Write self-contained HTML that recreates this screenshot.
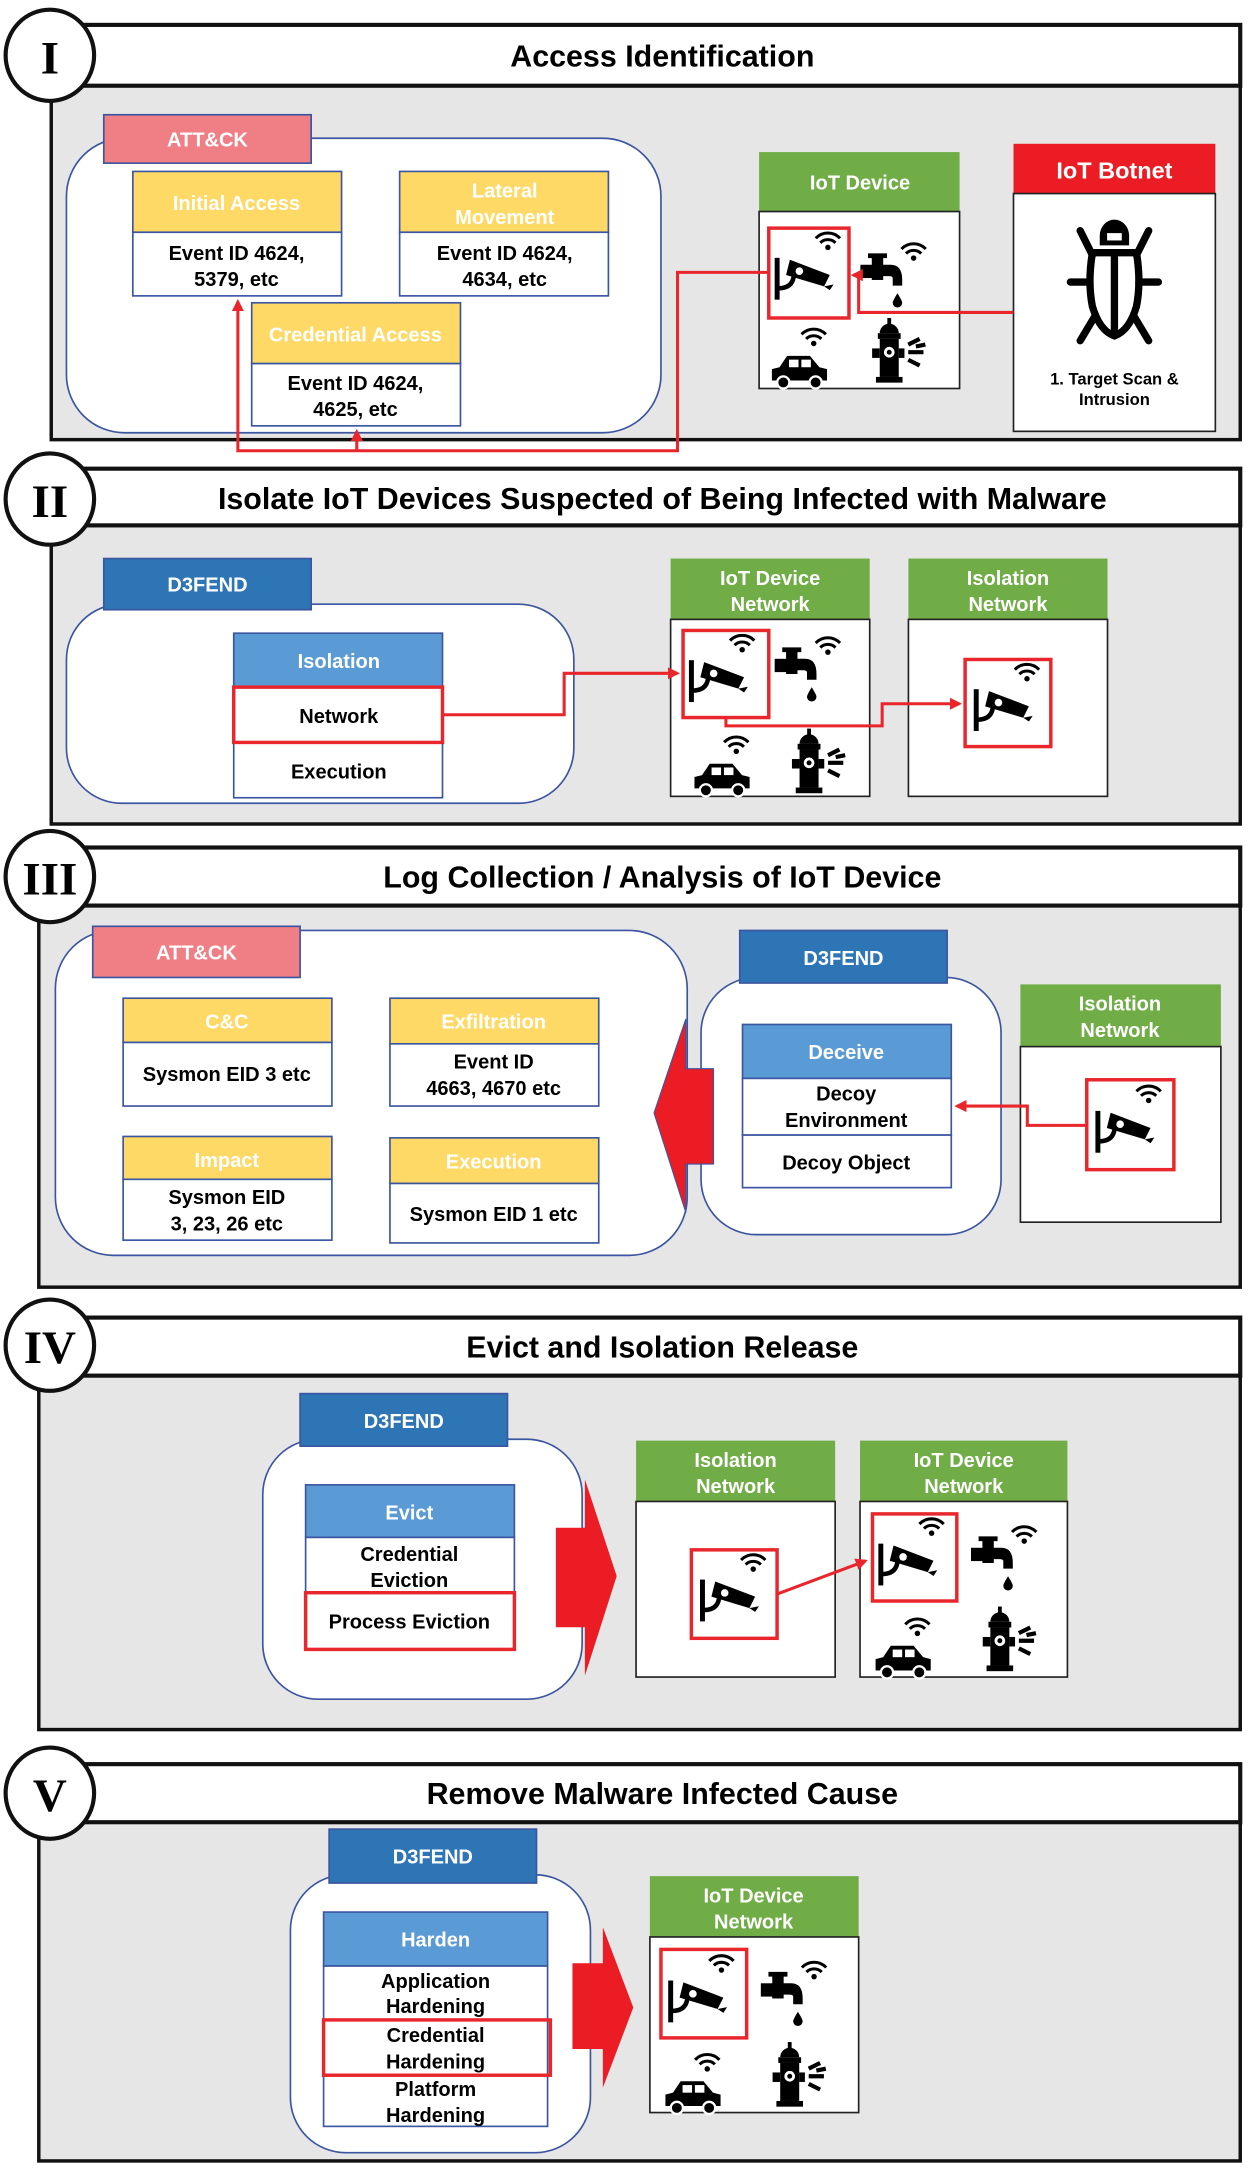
<!DOCTYPE html>
<html><head><meta charset="utf-8"><style>
html,body{margin:0;padding:0;background:#fff;}
svg{display:block;}
text{font-family:"Liberation Sans","DejaVu Sans",sans-serif;font-weight:bold;}
.w{fill:#fff;font-size:14.5px;text-anchor:middle;}
.b{fill:#000;font-size:14.5px;text-anchor:middle;}
.t{fill:#000;font-size:22px;text-anchor:middle;}
.rn{font-family:"Liberation Serif",serif;font-size:34px;text-anchor:middle;fill:#000;}
.gray{fill:#e6e6e6;stroke:#111;stroke-width:2.5;}
.bar{fill:#fff;stroke:#111;stroke-width:3;}
.cont{fill:#fff;stroke:#3b55a0;stroke-width:1.2;}
.hb{stroke:#3b55a0;stroke-width:1.2;}
.bx{fill:#fff;stroke:#3b55a0;stroke-width:1.2;}
.gb{fill:#fff;stroke:#222;stroke-width:1.2;}
.red{fill:none;stroke:#e8262b;stroke-width:2.5;}
.redl{fill:none;stroke:#e8262b;stroke-width:2.2;}
</style></head><body>
<svg width="1250" height="2172" viewBox="0 0 904 1571" xmlns="http://www.w3.org/2000/svg">
<defs>
<symbol id="wifi" viewBox="0 0 20 16" overflow="visible">
<path d="M2,7 A11,11 0 0 1 18,7" fill="none" stroke="#000" stroke-width="2"/>
<path d="M5,10 A7,7 0 0 1 15,10" fill="none" stroke="#000" stroke-width="2"/>
<circle cx="10" cy="13" r="1.8" fill="#000"/>
</symbol>
<symbol id="cam" viewBox="6 6 32 32" overflow="visible">
<use href="#wifi" x="24" y="2" width="16" height="13"/>
<rect x="4" y="18" width="2.6" height="22" fill="#000"/>
<path d="M6,34 Q13,34 14,28" fill="none" stroke="#000" stroke-width="2.4"/>
<polygon points="12,19 33,27 30,33 10,27" fill="#000"/>
<circle cx="17" cy="25" r="2" fill="#fff"/>
<polygon points="30,33 35,32 33,35" fill="#000"/>
</symbol>
<symbol id="tap" viewBox="6 6 32 32" overflow="visible">
<use href="#wifi" x="24" y="4" width="16" height="13"/>
<rect x="4" y="18" width="8" height="7" fill="#000"/>
<rect x="10" y="14" width="6" height="12" fill="#000"/>
<rect x="8" y="12" width="10" height="2.5" fill="#000"/>
<path d="M14,18 H20 Q26,18 26,26 V29 H21 V25 Q21,24 19,24 H14 Z" fill="#000"/>
<path d="M23.5,33 Q21,37 21,38 A2.5,2.5 0 0 0 26,38 Q26,37 23.5,33 Z" fill="#000"/>
</symbol>
<symbol id="car" viewBox="6 6 32 32" overflow="visible">
<use href="#wifi" x="18" y="6" width="16" height="13"/>
<path d="M4,36 V30 L8,29 L12,23 H24 L29,29 L33,30 V36 Z" fill="#000"/>
<rect x="13" y="25" width="5" height="4" fill="#fff"/><rect x="19.5" y="25" width="5" height="4" fill="#fff"/>
<circle cx="10" cy="37" r="3.2" fill="#000" stroke="#fff" stroke-width="1.2"/>
<circle cx="27" cy="37" r="3.2" fill="#000" stroke="#fff" stroke-width="1.2"/>
</symbol>
<symbol id="hyd" viewBox="6 6 32 32" overflow="visible">
<path d="M12,14 A5,5 0 0 1 22,14 Z" fill="#000"/><rect x="16" y="6" width="2" height="4" fill="#000"/>
<rect x="11" y="14" width="12" height="3" fill="#000"/>
<rect x="12" y="17" width="10" height="20" fill="#000"/>
<rect x="8" y="22" width="4" height="5" fill="#000"/><rect x="22" y="22" width="3" height="5" fill="#000"/>
<circle cx="17" cy="24" r="2.8" fill="#fff"/><circle cx="17" cy="24" r="1.3" fill="#000"/>
<rect x="10" y="37" width="14" height="3" fill="#000"/>
<path d="M27,20 L33,17 M27,24 L35,24 M27,28 L33,31 M31,21 L36,20" stroke="#000" stroke-width="2.2"/>
</symbol>
<symbol id="bug" viewBox="0 8 80 104" overflow="visible">
<path d="M28,22 A12,13 0 0 1 52,22 V30 H28 Z" fill="#000"/>
<rect x="34" y="20" width="12" height="6" fill="#fff"/>
<path d="M22,36 H58 Q62,60 58,80 Q52,100 40,104 Q28,100 22,80 Q18,60 22,36 Z" fill="none" stroke="#000" stroke-width="6"/>
<line x1="40" y1="36" x2="40" y2="102" stroke="#000" stroke-width="6"/>
<path d="M22,38 L12,18 M58,38 L68,18 M20,60 H4 M60,60 H76 M24,88 L12,108 M56,88 L68,108" stroke="#000" stroke-width="6" stroke-linecap="round"/>
</symbol>
<marker id="ar" viewBox="0 0 10 10" refX="8" refY="5" markerWidth="4" markerHeight="4" orient="auto-start-reverse">
<path d="M0,0 L10,5 L0,10 Z" fill="#e8262b"/></marker>
</defs>

<!-- ===== Section I ===== -->
<rect class="gray" x="37" y="62" width="860" height="256"/>
<rect class="bar" x="50" y="18" width="847" height="44"/>
<text class="t" x="479" y="48">Access Identification</text>
<ellipse cx="36" cy="40" rx="32" ry="33" fill="#fff" stroke="#111" stroke-width="3"/>
<text class="rn" x="36" y="53">I</text>

<rect class="cont" x="48" y="100" width="430" height="213" rx="42"/>
<rect x="75" y="83" width="150" height="35" fill="#f07f85" stroke="#3b55a0" stroke-width="1.2"/>
<text class="w" x="150" y="106">ATT&amp;CK</text>

<rect class="hb" x="96" y="124" width="151" height="44" fill="#ffd966"/>
<text class="w" x="171" y="152">Initial Access</text>
<rect class="bx" x="96" y="168" width="151" height="46"/>
<text class="b" x="171" y="188">Event ID 4624,</text><text class="b" x="171" y="207">5379, etc</text>

<rect class="hb" x="289" y="124" width="151" height="44" fill="#ffd966"/>
<text class="w" x="365" y="143">Lateral</text><text class="w" x="365" y="162">Movement</text>
<rect class="bx" x="289" y="168" width="151" height="46"/>
<text class="b" x="365" y="188">Event ID 4624,</text><text class="b" x="365" y="207">4634, etc</text>

<rect class="hb" x="182" y="219" width="151" height="44" fill="#ffd966"/>
<text class="w" x="257" y="247">Credential Access</text>
<rect class="bx" x="182" y="263" width="151" height="45"/>
<text class="b" x="257" y="282">Event ID 4624,</text><text class="b" x="257" y="301">4625, etc</text>

<rect x="549" y="110" width="145" height="43" fill="#70ad47"/>
<text class="w" x="622" y="137">IoT Device</text>
<rect class="gb" x="549" y="153" width="145" height="128"/>
<use href="#cam" x="563" y="170" width="44" height="44"/>
<rect class="red" x="556" y="165" width="58" height="65"/>
<use href="#tap" x="625" y="175" width="44" height="44"/>
<use href="#car" x="561" y="234" width="44" height="44"/>
<use href="#hyd" x="628" y="230" width="44" height="44"/>

<rect x="733" y="104" width="146" height="36" fill="#ec1c24"/>
<text class="w" x="806" y="129" style="font-size:17px">IoT Botnet</text>
<rect class="gb" x="733" y="140" width="146" height="172"/>
<use href="#bug" x="764" y="158" width="84" height="92"/>
<text class="b" x="806" y="278" style="font-size:12px">1. Target Scan &amp;</text>
<text class="b" x="806" y="293" style="font-size:12px">Intrusion</text>

<path class="redl" d="M733,226 H621 V199 H617" marker-end="url(#ar)"/>
<path class="redl" d="M556,197 H490 V326 H172 V218" marker-end="url(#ar)"/>
<path class="redl" d="M258,326 V312" marker-end="url(#ar)"/>

<!-- ===== Section II ===== -->
<rect class="gray" x="37" y="380" width="860" height="216"/>
<rect class="bar" x="50" y="339" width="847" height="41"/>
<text class="t" x="479" y="368">Isolate IoT Devices Suspected of Being Infected with Malware</text>
<ellipse cx="36" cy="361" rx="32" ry="33" fill="#fff" stroke="#111" stroke-width="3"/>
<text class="rn" x="36" y="374">II</text>

<rect class="cont" x="48" y="437" width="367" height="144" rx="40"/>
<rect x="75" y="404" width="150" height="37" fill="#2e75b6" stroke="#3b55a0" stroke-width="1.2"/>
<text class="w" x="150" y="428">D3FEND</text>
<rect class="hb" x="169" y="458" width="151" height="39" fill="#5b9bd5"/>
<text class="w" x="245" y="483">Isolation</text>
<rect class="bx" x="169" y="497" width="151" height="80"/>
<text class="b" x="245" y="523">Network</text>
<text class="b" x="245" y="563">Execution</text>
<rect class="red" x="169" y="497" width="151" height="40"/>

<rect x="485" y="404" width="144" height="44" fill="#70ad47"/>
<text class="w" x="557" y="423">IoT Device</text><text class="w" x="557" y="442">Network</text>
<rect class="gb" x="485" y="448" width="144" height="128"/>
<use href="#cam" x="501" y="461" width="44" height="44"/>
<rect class="red" x="494" y="456" width="62" height="63"/>
<use href="#tap" x="563" y="460" width="44" height="44"/>
<use href="#car" x="505" y="529" width="44" height="44"/>
<use href="#hyd" x="570" y="527" width="44" height="44"/>

<rect x="657" y="404" width="144" height="44" fill="#70ad47"/>
<text class="w" x="729" y="423">Isolation</text><text class="w" x="729" y="442">Network</text>
<rect class="gb" x="657" y="448" width="144" height="128"/>
<use href="#cam" x="707" y="482" width="44" height="44"/>
<rect class="red" x="698" y="477" width="62" height="63"/>

<path class="redl" d="M320,517 H408 V487 H490" marker-end="url(#ar)"/>
<path class="redl" d="M525,519 V525 H638 V509 H694" marker-end="url(#ar)"/>

<!-- ===== Section III ===== -->
<rect class="gray" x="28" y="655" width="869" height="276"/>
<rect class="bar" x="50" y="613" width="847" height="42"/>
<text class="t" x="479" y="642">Log Collection / Analysis of IoT Device</text>
<ellipse cx="36" cy="634" rx="32" ry="33" fill="#fff" stroke="#111" stroke-width="3"/>
<text class="rn" x="36" y="647">III</text>

<rect class="cont" x="40" y="673" width="457" height="235" rx="42"/>
<rect x="67" y="670" width="150" height="37" fill="#f07f85" stroke="#3b55a0" stroke-width="1.2"/>
<text class="w" x="142" y="694">ATT&amp;CK</text>

<rect class="hb" x="89" y="722" width="151" height="32" fill="#ffd966"/>
<text class="w" x="164" y="744">C&amp;C</text>
<rect class="bx" x="89" y="754" width="151" height="46"/>
<text class="b" x="164" y="782">Sysmon EID 3 etc</text>

<rect class="hb" x="282" y="722" width="151" height="33" fill="#ffd966"/>
<text class="w" x="357" y="744">Exfiltration</text>
<rect class="bx" x="282" y="755" width="151" height="45"/>
<text class="b" x="357" y="773">Event ID</text><text class="b" x="357" y="792">4663, 4670 etc</text>

<rect class="hb" x="89" y="822" width="151" height="31" fill="#ffd966"/>
<text class="w" x="164" y="844">Impact</text>
<rect class="bx" x="89" y="853" width="151" height="44"/>
<text class="b" x="164" y="871">Sysmon EID</text><text class="b" x="164" y="890">3, 23, 26 etc</text>

<rect class="hb" x="282" y="823" width="151" height="33" fill="#ffd966"/>
<text class="w" x="357" y="845">Execution</text>
<rect class="bx" x="282" y="856" width="151" height="43"/>
<text class="b" x="357" y="883">Sysmon EID 1 etc</text>

<rect class="cont" x="507" y="707" width="217" height="186" rx="40"/>
<polygon points="473,805 496,737 496,773 516,773 516,842 496,842 496,877" fill="#ec1c24" stroke="#3b55a0" stroke-width="0.8"/>
<rect x="535" y="673" width="150" height="38" fill="#2e75b6" stroke="#3b55a0" stroke-width="1.2"/>
<text class="w" x="610" y="698">D3FEND</text>
<rect class="hb" x="537" y="741" width="151" height="39" fill="#5b9bd5"/>
<text class="w" x="612" y="766">Deceive</text>
<rect class="bx" x="537" y="780" width="151" height="41"/>
<text class="b" x="612" y="796">Decoy</text><text class="b" x="612" y="815">Environment</text>
<rect class="bx" x="537" y="821" width="151" height="38"/>
<text class="b" x="612" y="846">Decoy Object</text>

<rect x="738" y="712" width="145" height="45" fill="#70ad47"/>
<text class="w" x="810" y="731">Isolation</text><text class="w" x="810" y="750">Network</text>
<rect class="gb" x="738" y="757" width="145" height="127"/>
<use href="#cam" x="795" y="787" width="44" height="44"/>
<rect class="red" x="786" y="781" width="63" height="65"/>
<path class="redl" d="M786,814 H743 V800 H692" marker-end="url(#ar)"/>

<!-- ===== Section IV ===== -->
<rect class="gray" x="28" y="995" width="869" height="256"/>
<rect class="bar" x="50" y="953" width="847" height="42"/>
<text class="t" x="479" y="982">Evict and Isolation Release</text>
<ellipse cx="36" cy="973" rx="32" ry="33" fill="#fff" stroke="#111" stroke-width="3"/>
<text class="rn" x="36" y="986">IV</text>

<rect class="cont" x="190" y="1041" width="231" height="188" rx="40"/>
<rect x="217" y="1008" width="150" height="38" fill="#2e75b6" stroke="#3b55a0" stroke-width="1.2"/>
<text class="w" x="292" y="1033">D3FEND</text>
<rect class="hb" x="221" y="1074" width="151" height="38" fill="#5b9bd5"/>
<text class="w" x="296" y="1099">Evict</text>
<rect class="bx" x="221" y="1112" width="151" height="81"/>
<text class="b" x="296" y="1129">Credential</text><text class="b" x="296" y="1148">Eviction</text>
<text class="b" x="296" y="1178">Process Eviction</text>
<rect class="red" x="221" y="1152" width="151" height="41"/>

<polygon points="402,1105 423,1105 423,1070 446,1140 423,1212 423,1177 402,1177" fill="#ec1c24"/>

<rect x="460" y="1042" width="144" height="44" fill="#70ad47"/>
<text class="w" x="532" y="1061">Isolation</text><text class="w" x="532" y="1080">Network</text>
<rect class="gb" x="460" y="1086" width="144" height="127"/>
<use href="#cam" x="509" y="1126" width="44" height="44"/>
<rect class="red" x="500" y="1121" width="62" height="64"/>

<rect x="622" y="1042" width="150" height="44" fill="#70ad47"/>
<text class="w" x="697" y="1061">IoT Device</text><text class="w" x="697" y="1080">Network</text>
<rect class="gb" x="622" y="1086" width="150" height="127"/>
<use href="#cam" x="638" y="1100" width="44" height="44"/>
<rect class="red" x="631" y="1095" width="61" height="63"/>
<use href="#tap" x="705" y="1103" width="44" height="44"/>
<use href="#car" x="636" y="1167" width="44" height="44"/>
<use href="#hyd" x="708" y="1162" width="44" height="44"/>
<path class="redl" d="M562,1153 L626,1129" marker-end="url(#ar)"/>

<!-- ===== Section V ===== -->
<rect class="gray" x="28" y="1318" width="869" height="245"/>
<rect class="bar" x="50" y="1276" width="847" height="42"/>
<text class="t" x="479" y="1305">Remove Malware Infected Cause</text>
<ellipse cx="36" cy="1297" rx="32" ry="33" fill="#fff" stroke="#111" stroke-width="3"/>
<text class="rn" x="36" y="1310">V</text>

<rect class="cont" x="210" y="1356" width="217" height="201" rx="40"/>
<rect x="238" y="1323" width="150" height="39" fill="#2e75b6" stroke="#3b55a0" stroke-width="1.2"/>
<text class="w" x="313" y="1348">D3FEND</text>
<rect class="hb" x="234" y="1383" width="162" height="39" fill="#5b9bd5"/>
<text class="w" x="315" y="1408">Harden</text>
<rect class="bx" x="234" y="1422" width="162" height="116"/>
<text class="b" x="315" y="1438">Application</text><text class="b" x="315" y="1456">Hardening</text>
<text class="b" x="315" y="1477">Credential</text><text class="b" x="315" y="1496">Hardening</text>
<text class="b" x="315" y="1516">Platform</text><text class="b" x="315" y="1535">Hardening</text>
<rect class="red" x="234" y="1461" width="164" height="40"/>

<polygon points="414,1420 436,1420 436,1394 458,1452 436,1510 436,1482 414,1482" fill="#ec1c24"/>

<rect x="470" y="1357" width="151" height="44" fill="#70ad47"/>
<text class="w" x="545" y="1376">IoT Device</text><text class="w" x="545" y="1395">Network</text>
<rect class="gb" x="470" y="1401" width="151" height="127"/>
<use href="#cam" x="486" y="1416" width="44" height="44"/>
<rect class="red" x="478" y="1410" width="62" height="64"/>
<use href="#tap" x="553" y="1418" width="44" height="44"/>
<use href="#car" x="484" y="1482" width="44" height="44"/>
<use href="#hyd" x="556" y="1477" width="44" height="44"/>
</svg>
</body></html>
